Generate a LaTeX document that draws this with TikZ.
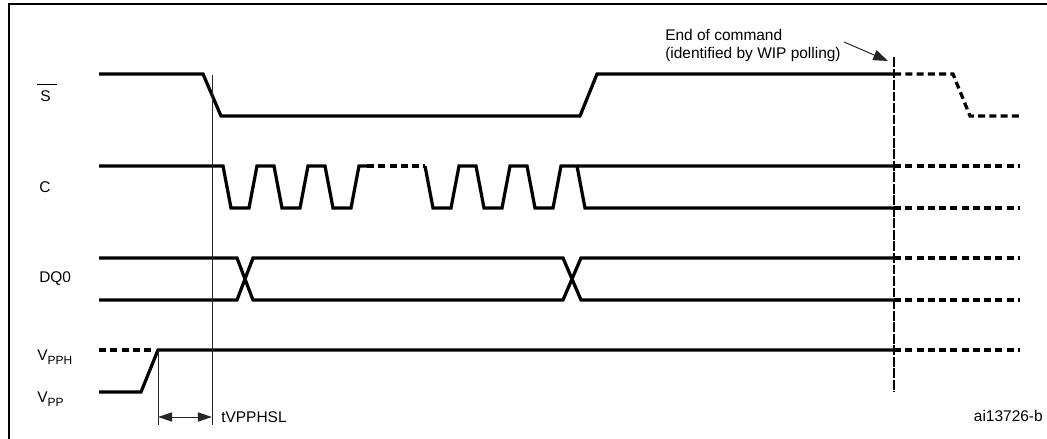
\documentclass[tikz,border=0pt]{standalone}
\usepackage{fontspec}
\setmainfont{Liberation Sans}
\usetikzlibrary{arrows.meta,positioning}

\tikzset{
  sig/.style={line width=2.3pt, line join=miter},
  sigdash/.style={sig, dash pattern=on 5pt off 3pt},
  guide/.style={line width=0.7pt, black!85},
  lbl/.style={font=\fontsize{11}{12.8}\selectfont, inner sep=0pt},
  tip/.style={-{Triangle[length=10.5pt,width=7.5pt]}}
}
\newcommand{\lowsub}[1]{\raisebox{-0.45ex}{\fontsize{8.5}{9}\selectfont #1}}

\begin{document}
\begin{tikzpicture}[x=0.025cm, y=-0.025cm]

  \useasboundingbox (0,0) rectangle (1047,439);

  % ---- frame ----
  \draw[line width=1.4pt] (9,439) -- (9,4) -- (1047,4);

  % ---- signal names ----
  \node[lbl, anchor=west] (lblS) at (40,93)
    {\makebox[0pt][l]{\hspace{-2pt}\raisebox{11.5pt}{\rule{14pt}{0.7pt}}}S};
  \node[lbl, anchor=west] (lblC) at (39,187) {C};
  \node[lbl, anchor=west] (lblDQ) at (39,279) {DQ0};
  \node[lbl, anchor=west] (lblVPPH) at (37,357) {V\lowsub{PPH}};
  \node[lbl, anchor=west] (lblVPP) at (37,399) {V\lowsub{PP}};

  % ---- S ----
  \draw[sig] (99,74) -- (203,74) -- (221,116) -- (580,116) -- (597,74) -- (894,74);
  \draw[sigdash] (894,74) -- (953,74) -- (970,116) -- (1020,116);

  % ---- C: two groups of clock pulses ----
  \draw[sig] (99,166) foreach \x in {223,274,325} {
    -- (\x,166) -- ++(8,42) -- ++(18,0) -- ++(8,-42)} -- (367,166);
  \draw[sigdash] (367,166) -- (425,166);
  \draw[sig] (425,166) foreach \x in {425,476,527} {
    -- (\x,166) -- ++(8,42) -- ++(18,0) -- ++(8,-42)} -- (894,166);
  \draw[sig] (577,166) -- (585,208) -- (894,208);
  \draw[sigdash] (894,166) -- (1020,166);
  \draw[sigdash] (894,208) -- (1020,208);

  % ---- DQ0 ----
  \draw[sig] (99,258) -- (237,258) -- (253,300) -- (563,300) -- (581,258) -- (894,258);
  \draw[sig] (99,300) -- (237,300) -- (253,258) -- (563,258) -- (581,300) -- (894,300);
  \draw[sigdash] (894,258) -- (1020,258);
  \draw[sigdash] (894,300) -- (1020,300);

  % ---- VPP ----
  \draw[sigdash] (99,350) -- (153,350);
  \draw[sig] (99,392) -- (141,392) -- (158,350) -- (894,350);
  \draw[sigdash] (894,350) -- (1020,350);

  % ---- timing guides ----
  \draw[guide] (212,75) -- (212,425);
  \draw[guide] (158,350) -- (158,425);
  \draw[guide, black, line width=0.8pt, dash pattern=on 7pt off 1.2pt] (894,57) -- (894,392);

  \coordinate (tA) at (158,417);
  \coordinate (tB) at (212,417);
  \draw[guide, {Triangle[length=10pt,width=6.5pt]}-{Triangle[length=10pt,width=6.5pt]}]
    (tA) -- (tB);
  \node[lbl, anchor=west] (lblT) at (221,417) {tVPPHSL};

  % ---- end of command ----
  \node[lbl, anchor=north west, align=left] (lblEnd) at (665,29)
    {End of command\\(identified by WIP polling)};
  \coordinate (endtail) at (844,42);
  \coordinate (endtip) at (888,61);
  \draw[guide, tip] (endtail) -- (endtip);

  \node[lbl, anchor=east] (lblRef) at (1043,416) {ai13726-b};

\end{tikzpicture}
\end{document}
